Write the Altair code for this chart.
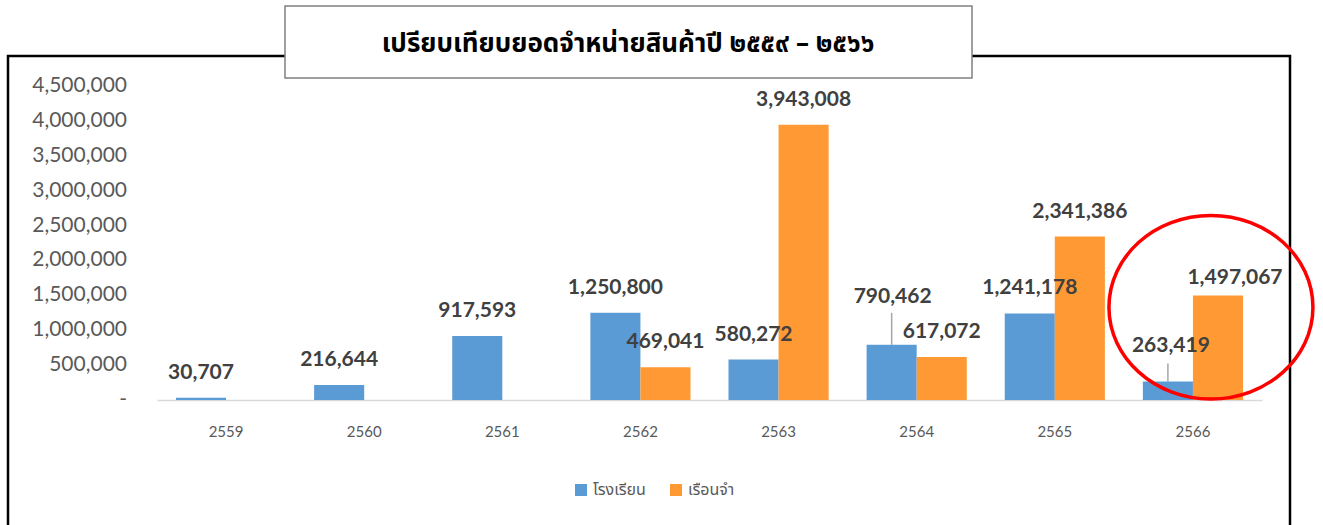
import altair as alt
import pandas as pd

# ---- data ----
years = ["2559", "2560", "2561", "2562", "2563", "2564", "2565", "2566"]
series_names = ["โรงเรียน", "เรือนจำ"]
school = [30707, 216644, 917593, 1250800, 580272, 790462, 1241178, 263419]
prison = [None, None, None, 469041, 3943008, 617072, 2341386, 1497067]
y_ticks = [0, 500000, 1000000, 1500000, 2000000, 2500000, 3000000, 3500000, 4000000, 4500000]
y_tick_labels = ["-\u2007", "500,000", "1,000,000", "1,500,000", "2,000,000",
                 "2,500,000", "3,000,000", "3,500,000", "4,000,000", "4,500,000"]
title_text = "เปรียบเทียบยอดจำหน่ายสินค้าปี ๒๕๕๙ – ๒๕๖๖"
colors = ["#5B9BD5", "#FF9933"]

rows = []
for y, a, b in zip(years, school, prison):
    if a is not None:
        rows.append({"year": y, "series": series_names[0], "value": a})
    if b is not None:
        rows.append({"year": y, "series": series_names[1], "value": b})
df = pd.DataFrame(rows)
df["key"] = df["year"] + "|" + df["series"]
ticks_df = pd.DataFrame({"value": y_ticks, "label": y_tick_labels})

# label nudges (pixels) where the original labels were moved by hand
DEFAULT_NUDGE = (0, -25)
nudges = {
    "2564|โรงเรียน": (1, -48),
    "2566|โรงเรียน": (3, -36),
    "2566|เรือนจำ": (17, -18),
}
leaders = {"2564|โรงเรียน": 32, "2566|โรงเรียน": 18}

W, H = 1105, 314
PAD_L, PAD_T = 157, 86

x_enc = alt.X("year:N", sort=years, title=None,
              scale=alt.Scale(domain=years, paddingInner=0.275, paddingOuter=0.1375),
              axis=alt.Axis(labelFont="Lato", labelFontSize=15, labelColor="#595959",
                            labelPadding=24, ticks=False, domainColor="#d9d9d9",
                            domainWidth=1.5, labelAngle=0, grid=False))
xo_enc = alt.XOffset("series:N", sort=series_names,
                     scale=alt.Scale(domain=series_names, paddingInner=0, paddingOuter=0))
y_scale = alt.Scale(domain=[0, 4500000], nice=False)
y_enc = alt.Y("value:Q", title=None, scale=y_scale, axis=None)

one = pd.DataFrame({"k": [0]})

frame = alt.Chart(one).mark_rect(fill=None, stroke="#000000", strokeWidth=2.5).encode(
    x=alt.value(8 - PAD_L), x2=alt.value(1290 - PAD_L),
    y=alt.value(56 - PAD_T), y2=alt.value(460))

bars = alt.Chart(df).mark_bar().encode(
    x=x_enc, xOffset=xo_enc, y=y_enc,
    color=alt.Color("series:N", sort=series_names,
                    scale=alt.Scale(domain=series_names, range=colors),
                    legend=alt.Legend(title=None, orient="none", direction="horizontal",
                                      legendX=416, legendY=396, symbolType="square",
                                      symbolSize=144, symbolStrokeWidth=0,
                                      labelFont="Noto Sans Thai, Noto Sans, sans-serif",
                                      labelFontSize=16, labelColor="#595959",
                                      columnPadding=22, labelOffset=4)))

y_labels = alt.Chart(ticks_df).mark_text(
    font="Lato", fontSize=21, color="#595959", align="right", baseline="middle"
).encode(x=alt.value(-30), y=y_enc, text="label:N")

layers = [frame, bars, y_labels]

groups = {}
for k in df["key"]:
    groups.setdefault(nudges.get(k, DEFAULT_NUDGE), []).append(k)
for (dx, dy), keys in groups.items():
    layers.append(
        alt.Chart(df).transform_filter(alt.FieldOneOfPredicate(field="key", oneOf=keys))
        .mark_text(dx=dx, dy=dy, font="Lato", fontSize=21, fontWeight="bold",
                   color="#404040", baseline="middle")
        .encode(x=x_enc, xOffset=xo_enc, y=y_enc, text=alt.Text("value:Q", format=","))
    )

for k, ln in leaders.items():
    layers.append(
        alt.Chart(df).transform_filter(alt.FieldEqualPredicate(field="key", equal=k))
        .mark_rule(color="#a6a6a6", strokeWidth=1.5, y2Offset=-ln)
        .encode(x=x_enc, xOffset=xo_enc, y=y_enc, y2="value:Q")
    )

ellipse = alt.Chart(one).mark_point(
    shape="M -1 0 A 1 0.9 0 1 1 1 0 A 1 0.9 0 1 1 -1 0 Z",
    size=204 * 204, filled=False, stroke="#FF0000", strokeWidth=3.5, opacity=1, xOffset=18
).encode(x=alt.datum("2566"), y=alt.datum(1330000))
layers.append(ellipse)

title_box = alt.Chart(one).mark_rect(fill="#ffffff", stroke="#808080", strokeWidth=1.5).encode(
    x=alt.value(285 - PAD_L), x2=alt.value(972 - PAD_L),
    y=alt.value(6 - PAD_T), y2=alt.value(78 - PAD_T))
title_txt = alt.Chart(one).mark_text(
    text=title_text, font="Noto Sans Thai, Noto Sans, sans-serif", fontSize=26,
    fontWeight="bold", color="#000000", align="center", baseline="middle"
).encode(x=alt.value(628 - PAD_L), y=alt.value(44 - PAD_T))
layers += [title_box, title_txt]

chart = alt.layer(*layers).properties(
    width=W, height=H,
    padding={"left": PAD_L, "top": PAD_T, "right": 1323 - PAD_L - W, "bottom": 525 - PAD_T - H},
    autosize=alt.AutoSizeParams(type="none"),
    background="#ffffff",
).configure_view(stroke=None)

chart.save("out.html", embed_options={"renderer": "svg", "actions": False})
